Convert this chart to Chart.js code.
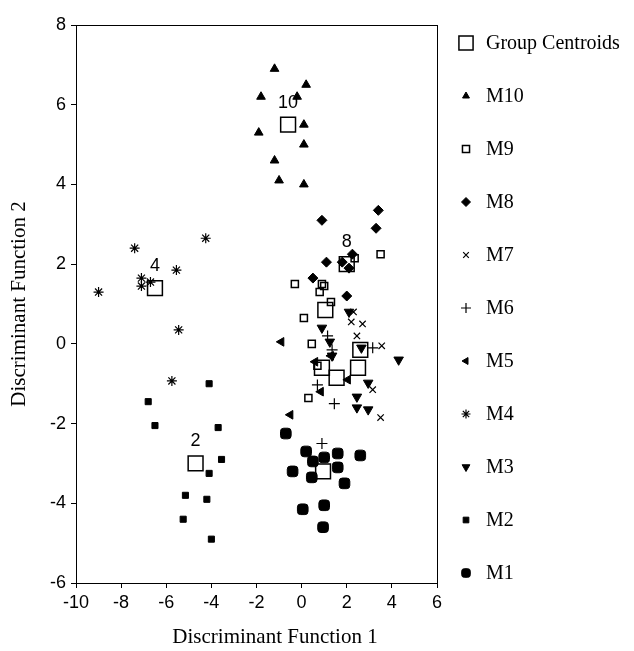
<!DOCTYPE html>
<html>
<head>
<meta charset="utf-8">
<script src="https://cdn.jsdelivr.net/npm/chart.js@4/dist/chart.umd.min.js"></script>
<style>
html,body{margin:0;padding:0;background:#fff;}
#wrap{width:634px;height:651px;}
</style>
</head>
<body>
<div id="wrap"><canvas id="c" width="634" height="651"></canvas></div>
<script>
// ---- data ----
const xTicks = [-10, -8, -6, -4, -2, 0, 2, 4, 6];
const yTicks = [-6, -4, -2, 0, 2, 4, 6, 8];
const xTitle = 'Discriminant Function 1';
const yTitle = 'Discriminant Function 2';

const centroidX = [-0.6, -6.5, -4.7, 0.95, 2.0, 1.05, 2.6, 2.5, 1.55, 0.9];
const centroidY = [5.5, 1.4, -3.0, -3.2, 2.0, 0.85, -0.15, -0.6, -0.85, -0.6];
const centroidLabels = ['10', '4', '2', '', '8', '', '', '', '', ''];

const m10X = [-1.2, 0.2, -1.8, -0.2, 0.1, -1.9, 0.1, -1.2, -1.0, 0.1];
const m10Y = [6.9, 6.5, 6.2, 6.2, 5.5, 5.3, 5.0, 4.6, 4.1, 4.0];

const m9X = [3.5, 2.35, -0.3, 0.9, 1.0, 0.8, 1.3, 0.1, 0.45, 0.7, 0.3];
const m9Y = [2.25, 2.15, 1.5, 1.5, 1.45, 1.3, 1.05, 0.65, 0.0, -0.55, -1.36];

const m8X = [3.4, 0.9, 3.3, 1.1, 1.8, 2.25, 0.5, 2.0, 2.1];
const m8Y = [3.35, 3.1, 2.9, 2.05, 2.05, 2.25, 1.65, 1.2, 1.9];

const m7X = [2.3, 2.2, 2.7, 2.45, 3.55, 3.15, 3.5];
const m7Y = [0.8, 0.55, 0.5, 0.2, -0.05, -1.15, -1.85];

const m6X = [1.15, 1.35, 3.15, 0.7, 1.45, 0.9];
const m6Y = [0.2, -0.15, -0.1, -1.03, -1.5, -2.5];

const m5X = [-0.9, -0.5, 0.6, 0.85, 1.3, 2.05];
const m5Y = [0.05, -1.78, -0.45, -1.2, -0.3, -0.9];

const m4X = [-9.0, -7.4, -7.1, -7.1, -6.7, -5.55, -4.25, -5.45, -5.75];
const m4Y = [1.3, 2.4, 1.65, 1.45, 1.55, 1.85, 2.65, 0.35, -0.93];

const m3X = [2.1, 0.9, 4.3, 2.95, 2.45, 2.45, 2.95, 2.65, 1.35, 1.25];
const m3Y = [0.8, 0.4, -0.4, -0.98, -1.33, -1.6, -1.65, -0.1, -0.3, 0.05];

const m2X = [-4.1, -6.8, -6.5, -3.7, -3.55, -4.1, -5.15, -4.2, -5.25, -4.0];
const m2Y = [-1.0, -1.45, -2.05, -2.1, -2.9, -3.25, -3.8, -3.9, -4.4, -4.9];

const m1X = [-0.7, 0.2, 1.6, 2.6, 0.5, 1.0, -0.4, 1.6, 0.45, 1.9, 0.05, 1.0, 0.95];
const m1Y = [-2.25, -2.7, -2.75, -2.8, -2.95, -2.85, -3.2, -3.1, -3.35, -3.5, -4.15, -4.05, -4.6];

const seriesNames = ['Group Centroids', 'M10', 'M9', 'M8', 'M7', 'M6', 'M5', 'M4', 'M3', 'M2', 'M1'];

function pts(xs, ys) { return xs.map((x, i) => ({x: x, y: ys[i]})); }

const BLACK = '#000';
const NONE = 'rgba(0,0,0,0)';

const styles = [
  {pointStyle: 'rect', radius: 10.5, rot: 0, fill: NONE, bw: 1.5, lr: 10},
  {pointStyle: 'triangle', radius: 5, rot: 0, fill: BLACK, bw: 1, lr: 4},
  {pointStyle: 'rect', radius: 5, rot: 0, fill: NONE, bw: 1.5, lr: 5},
  {pointStyle: 'rectRot', radius: 5, rot: 0, fill: BLACK, bw: 1, lr: 4.5},
  {pointStyle: 'crossRot', radius: 4.5, rot: 0, fill: BLACK, bw: 1.2, lr: 4},
  {pointStyle: 'cross', radius: 5.5, rot: 0, fill: BLACK, bw: 1.2, lr: 5},
  {pointStyle: 'triangle', radius: 5, rot: 270, fill: BLACK, bw: 1, lr: 4},
  {pointStyle: 'star', radius: 5, rot: 0, fill: BLACK, bw: 1.2, lr: 4.5},
  {pointStyle: 'triangle', radius: 5.5, rot: 180, fill: BLACK, bw: 1, lr: 4.5},
  {pointStyle: 'rect', radius: 4.3, rot: 0, fill: BLACK, bw: 1, lr: 4},
  {pointStyle: 'rectRounded', radius: 6.2, rot: 0, fill: BLACK, bw: 1, lr: 5}
];

const seriesData = [
  pts(centroidX, centroidY), pts(m10X, m10Y), pts(m9X, m9Y), pts(m8X, m8Y),
  pts(m7X, m7Y), pts(m6X, m6Y), pts(m5X, m5Y), pts(m4X, m4Y),
  pts(m3X, m3Y), pts(m2X, m2Y), pts(m1X, m1Y)
];

const datasets = seriesNames.map((name, i) => ({
  label: name,
  data: seriesData[i],
  pointStyle: styles[i].pointStyle,
  pointRadius: styles[i].radius,
  pointHoverRadius: styles[i].radius,
  pointRotation: styles[i].rot,
  backgroundColor: styles[i].fill,
  borderColor: BLACK,
  borderWidth: styles[i].bw,
  order: i === 0 ? 0 : 1
}));

const SANS = '"Liberation Sans", Arial, sans-serif';
const SERIF = '"Liberation Serif", "Times New Roman", serif';

const framePlugin = {
  id: 'frame',
  afterDraw(chart) {
    const {ctx, chartArea: a} = chart;
    ctx.save();
    ctx.strokeStyle = BLACK;
    ctx.lineWidth = 1;
    ctx.strokeRect(Math.round(a.left) + 0.5, Math.round(a.top) + 0.5,
                   Math.round(a.right - a.left), Math.round(a.bottom - a.top));
    // x axis title, placed as in the reference (slightly right of the plot centre)
    ctx.fillStyle = BLACK;
    ctx.font = '21px ' + SERIF;
    ctx.textAlign = 'center';
    ctx.textBaseline = 'middle';
    ctx.fillText(xTitle, 275, 637);
    ctx.restore();
  }
};

const centroidLabelPlugin = {
  id: 'centroidLabels',
  afterDatasetsDraw(chart) {
    const meta = chart.getDatasetMeta(0);
    const ctx = chart.ctx;
    ctx.save();
    ctx.fillStyle = BLACK;
    ctx.font = '18px ' + SANS;
    ctx.textAlign = 'center';
    ctx.textBaseline = 'middle';
    meta.data.forEach((el, i) => {
      if (centroidLabels[i]) ctx.fillText(centroidLabels[i], el.x, el.y - 22);
    });
    ctx.restore();
  }
};

const legendPlugin = {
  id: 'sideLegend',
  afterDraw(chart) {
    const ctx = chart.ctx;
    const x0 = 466, textX = 486, y0 = 43, step = 53;
    ctx.save();
    ctx.font = '20px ' + SERIF;
    ctx.textBaseline = 'middle';
    ctx.textAlign = 'left';
    seriesNames.forEach((name, i) => {
      const y = y0 + step * i;
      const s = styles[i];
      ctx.fillStyle = s.fill;
      ctx.strokeStyle = BLACK;
      ctx.lineWidth = s.bw;
      Chart.helpers.drawPoint(ctx, {pointStyle: s.pointStyle, radius: s.lr, rotation: s.rot, borderWidth: s.bw}, x0, y);
      ctx.fillStyle = BLACK;
      ctx.fillText(name, textX, y + 1);
    });
    ctx.restore();
  }
};

new Chart(document.getElementById('c'), {
  type: 'scatter',
  data: {datasets: datasets},
  options: {
    responsive: false,
    animation: false,
    layout: {padding: {top: 25, right: 197, left: 0, bottom: 0}},
    plugins: {legend: {display: false}, tooltip: {enabled: false}},
    scales: {
      x: {
        type: 'linear', min: -10, max: 6,
        afterBuildTicks(scale) { scale.ticks = xTicks.map(v => ({value: v})); },
        afterFit(scale) { scale.height = 68; },
        grid: {drawOnChartArea: false, drawTicks: true, tickLength: 5, color: BLACK},
        border: {display: true, color: BLACK, width: 1},
        ticks: {color: BLACK, font: {family: SANS, size: 18}, padding: 4, maxRotation: 0},
        title: {display: false, text: xTitle}
      },
      y: {
        type: 'linear', min: -6, max: 8,
        afterBuildTicks(scale) { scale.ticks = yTicks.map(v => ({value: v})); },
        afterFit(scale) { scale.width = 76; },
        grid: {drawOnChartArea: false, drawTicks: true, tickLength: 5, color: BLACK},
        border: {display: true, color: BLACK, width: 1},
        ticks: {color: BLACK, font: {family: SANS, size: 18}, padding: 5},
        title: {display: true, text: yTitle, color: BLACK,
                font: {family: SERIF, size: 21}, padding: {top: 7, bottom: 0}}
      }
    }
  },
  plugins: [framePlugin, centroidLabelPlugin, legendPlugin]
});
</script>
</body>
</html>
